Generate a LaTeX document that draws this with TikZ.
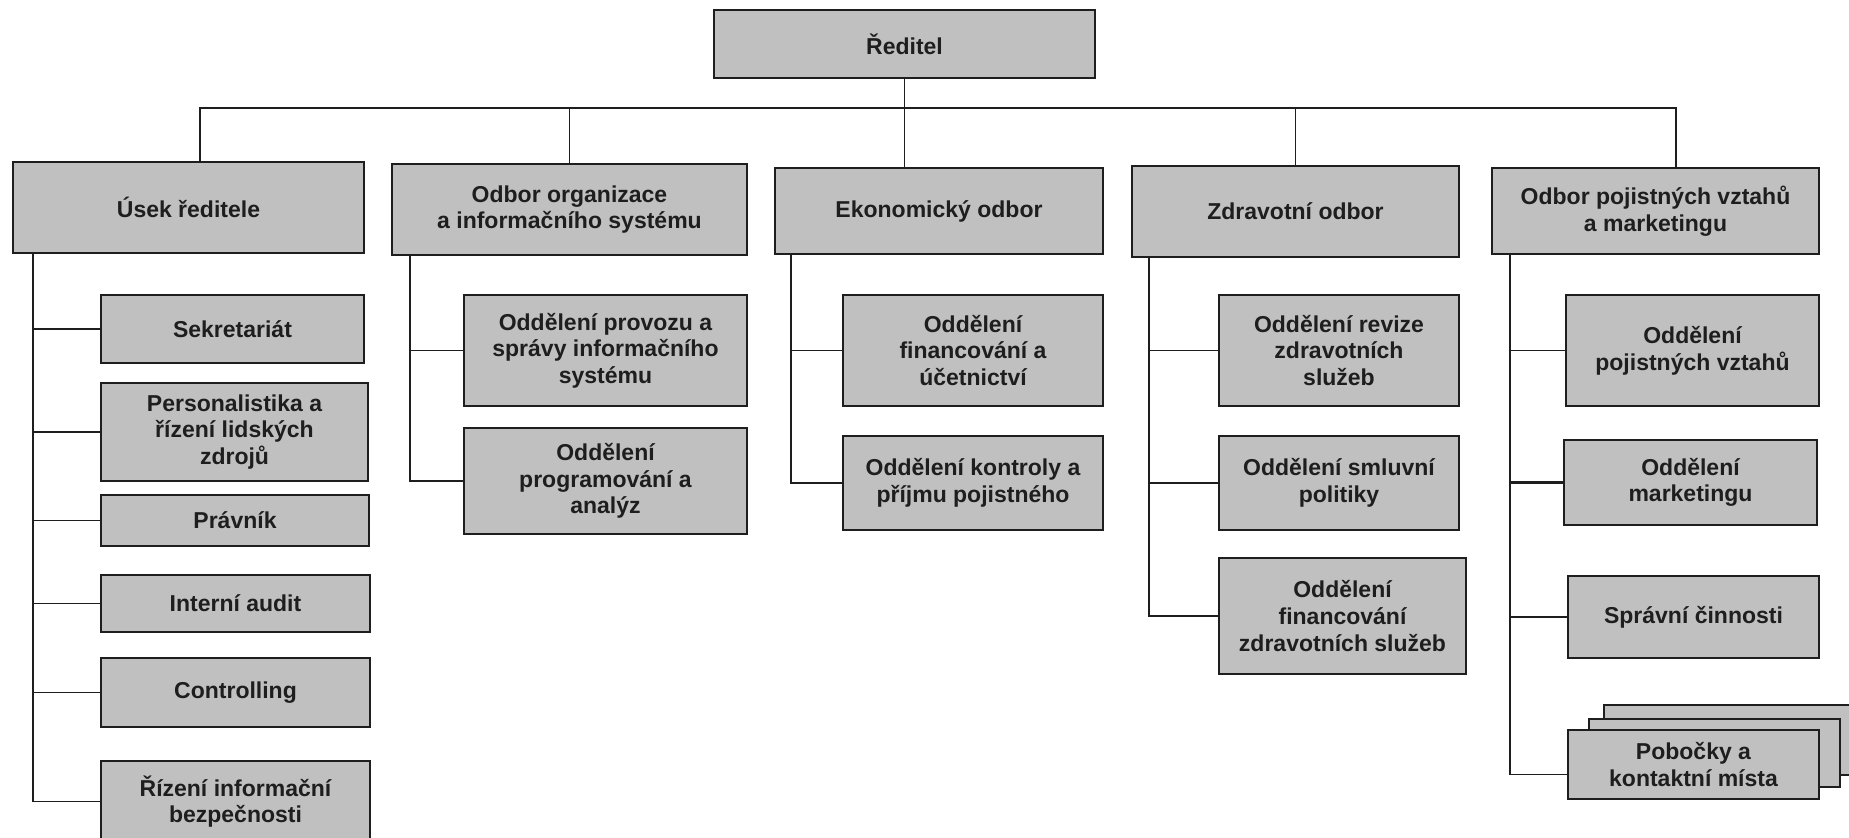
\documentclass[tikz,border=0pt]{standalone}
\usepackage{fontspec}
\setmainfont{Liberation Sans}
\usepackage{xcolor}
\usepackage{tikz}
\definecolor{boxgray}{HTML}{C0C0C0}
\definecolor{inkgray}{HTML}{1E1E1E}

\begin{document}
\begin{tikzpicture}[
  x=0.5pt, y=-0.5pt,                        % one unit = one pixel of the chart
  font=\bfseries\fontsize{11.5}{13.3}\selectfont,
  unit/.style    = {rectangle,
                    draw=inkgray,
                    fill=boxgray,
                    line width=0.85pt,
                    text=inkgray,
                    align=center,
                    inner sep=0pt,
                    outer sep=0pt},
  boxsize/.style 2 args = {minimum width=#1*0.5pt,
                           minimum height=#2*0.5pt},
  link/.style    = {draw=inkgray, line width=0.8pt}
]
\useasboundingbox (0,0) rectangle (1849,837);

% top
\node[unit, boxsize={381}{68}]   (reditel) at (904.5,44)    {Ředitel};

% departments
\node[unit, boxsize={351}{91}]   (usek)  at (188.5,207.5)   {Úsek ředitele};
\node[unit, boxsize={355}{91}]   (org)   at (569.5,209.5)   {Odbor organizace\\a informačního systému};
\node[unit, boxsize={328}{86}]   (ekon)  at (939,211)       {Ekonomický odbor};
\node[unit, boxsize={327}{91}]   (zdrav) at (1295.5,211.5)  {Zdravotní odbor};
\node[unit, boxsize={327}{86}]   (poj)   at (1655.5,211)    {Odbor pojistných vztahů\\a marketingu};

% Usek reditele
\node[unit, boxsize={263}{68}]   (sekr)   at (232.5,329)    {Sekretariát};
\node[unit, boxsize={267}{98}]   (pers)   at (234.5,432)    {Personalistika a\\řízení lidských\\zdrojů};
\node[unit, boxsize={268}{51}]   (prav)   at (235,520.5)    {Právník};
\node[unit, boxsize={269}{57}]   (audit)  at (235.5,603.5)  {Interní audit};
\node[unit, boxsize={269}{69}]   (ctrl)   at (235.5,692.5)  {Controlling};
\node[unit, boxsize={269}{81}]   (rizeni) at (235.5,801.5)  {Řízení informační\\bezpečnosti};

% Odbor organizace
\node[unit, boxsize={283}{111}]  (provoz) at (605.5,350.5)  {Oddělení provozu a\\správy informačního\\systému};
\node[unit, boxsize={283}{106}]  (prog)   at (605.5,481)    {Oddělení\\programování a\\analýz};

% Ekonomicky odbor
\node[unit, boxsize={260}{111}]  (fin)    at (973,350.5)    {Oddělení\\financování a\\účetnictví};
\node[unit, boxsize={260}{94}]   (kontr)  at (973,483)      {Oddělení kontroly a\\příjmu pojistného};

% Zdravotni odbor
\node[unit, boxsize={240}{111}]  (revize) at (1339,350.5)   {Oddělení revize\\zdravotních\\služeb};
\node[unit, boxsize={240}{94}]   (smluv)  at (1339,483)     {Oddělení smluvní\\politiky};
\node[unit, boxsize={247}{116}]  (finzdr) at (1342.5,616)   {Oddělení\\financování\\zdravotních služeb};

% Odbor pojistnych vztahu
\node[unit, boxsize={253}{111}]  (pojvz)  at (1692.5,350.5) {Oddělení\\pojistných vztahů};
\node[unit, boxsize={253}{85}]   (mark)   at (1690.5,482.5) {Oddělení\\marketingu};
\node[unit, boxsize={251}{82}]   (sprav)  at (1693.5,617)   {Správní činnosti};
\node[unit, boxsize={266}{70}]   (stackb) at (1737,740)     {};
\node[unit, boxsize={251}{68}]   (stackm) at (1714.5,753)   {};
\node[unit, boxsize={251}{69}]   (pob)    at (1693.5,764.5) {Pobočky a\\kontaktní místa};

% bus under the director
\coordinate (busL) at (200,108);
\coordinate (busR) at (1676,108);
\draw[link] (usek.north -| busL) -- (busL) -- (busR) -- (poj.north -| busR);
\draw[link] (reditel.south) -- (reditel.south |- ekon.north);
\draw[link] (org.north)   -- (org.north |- busL);
\draw[link] (zdrav.north) -- (zdrav.north |- busL);

% branches
\coordinate (usekx)  at ([xshift=10pt]usek.south west);
\coordinate (orgx)   at ([xshift=9pt]org.south west);
\coordinate (ekonx)  at ([xshift=8pt]ekon.south west);
\coordinate (zdravx) at ([xshift=8.5pt]zdrav.south west);
\coordinate (pojx)   at ([xshift=9pt]poj.south west);

\draw[link] (usekx) |- (rizeni.west);
\draw[link] (sekr.west)  -- (sekr.west -| usekx);
\draw[link] (pers.west)  -- (pers.west -| usekx);
\draw[link] (prav.west)  -- (prav.west -| usekx);
\draw[link] (audit.west) -- (audit.west -| usekx);
\draw[link] (ctrl.west)  -- (ctrl.west -| usekx);

\draw[link] (orgx) |- (prog.west);
\draw[link] (provoz.west) -- (provoz.west -| orgx);

\draw[link] (ekonx) |- (kontr.west);
\draw[link] (fin.west) -- (fin.west -| ekonx);

\draw[link] (zdravx) |- (finzdr.west);
\draw[link] (revize.west) -- (revize.west -| zdravx);
\draw[link] (smluv.west)  -- (smluv.west -| zdravx);

\draw[link] (pojx) |- ([yshift=-5pt]pob.west);
\draw[link] (pojvz.west) -- (pojvz.west -| pojx);
\draw[link, line width=1.3pt] (mark.west) -- (mark.west -| pojx);
\draw[link] (sprav.west) -- (sprav.west -| pojx);

\end{tikzpicture}
\end{document}
